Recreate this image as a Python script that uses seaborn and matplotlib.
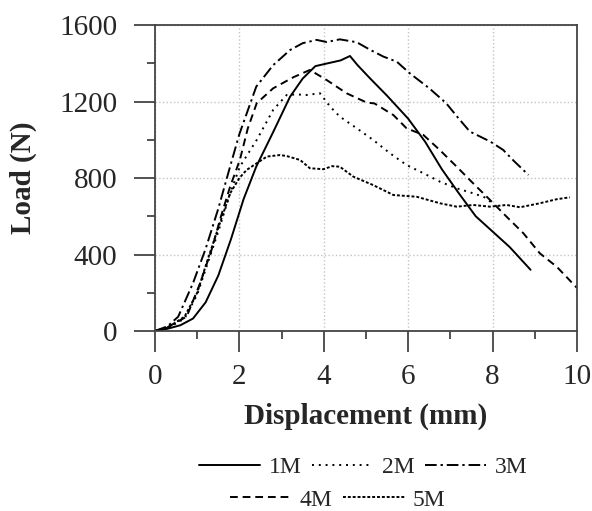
import matplotlib
matplotlib.use("Agg")
import matplotlib.pyplot as plt
import seaborn as sns
import numpy as np
from matplotlib.ticker import MultipleLocator

# data (displacement mm, load N)
x1 = [0, 0.3, 0.6, 0.9, 1.2, 1.5, 1.8, 2.1, 2.4, 2.8, 3.2, 3.5, 3.8, 4.1, 4.4, 4.62,
      4.8, 5.1, 5.5, 6.0, 6.4, 6.8, 7.2, 7.6, 8.0, 8.4, 8.9]
y1 = [0, 12, 30, 65, 150, 290, 480, 690, 860, 1040, 1225, 1320, 1385, 1400, 1415, 1438,
      1390, 1320, 1230, 1110, 990, 845, 720, 600, 520, 440, 320]

x2 = [0, 0.3, 0.7, 1.0, 1.22, 1.5, 1.78, 2.01, 2.41, 2.8, 3.12, 3.36, 3.59, 3.91, 4.15,
      4.38, 4.78, 5.17, 5.57, 5.96, 6.36, 6.75, 7.15, 7.54, 7.8, 8.05]
y2 = [0, 15, 65, 190, 336, 520, 720, 859, 999, 1156, 1234, 1237, 1234, 1243, 1173,
      1121, 1060, 999, 929, 868, 825, 781, 746, 720, 700, 660]

x3 = [0, 0.3, 0.55, 0.9, 1.2, 1.5, 1.78, 2.0, 2.4, 2.8, 3.2, 3.5, 3.83, 4.07, 4.38,
      4.78, 5.1, 5.41, 5.73, 6.04, 6.5, 6.9, 7.2, 7.46, 7.94, 8.25, 8.5, 8.85]
y3 = [0, 25, 75, 250, 430, 640, 860, 1030, 1278, 1390, 1469, 1505, 1522, 1511, 1525,
      1510, 1470, 1435, 1408, 1347, 1269, 1191, 1110, 1043, 991, 947, 890, 816]

x4 = [0, 0.3, 0.75, 1.07, 1.34, 1.55, 1.78, 2.01, 2.2, 2.41, 2.8, 3.28, 3.67, 4.07,
      4.54, 5.02, 5.2, 5.65, 5.96, 6.36, 6.75, 7.15, 7.54, 7.94, 8.33, 8.73, 9.12,
      9.52, 10.0]
y4 = [0, 20, 75, 250, 424, 590, 755, 894, 1060, 1191, 1269, 1327, 1365, 1312,
      1243, 1194, 1190, 1129, 1060, 1025, 946, 859, 772, 685, 598, 511, 406,
      336, 225]

x5 = [0, 0.3, 0.7, 1.0, 1.22, 1.5, 1.78, 2.0, 2.17, 2.41, 2.65, 2.96, 3.12, 3.44,
      3.67, 3.99, 4.2, 4.38, 4.7, 5.17, 5.65, 6.2, 6.75, 7.15, 7.54, 7.94, 8.33,
      8.65, 9.12, 9.52, 9.83]
y5 = [0, 18, 75, 200, 354, 540, 720, 800, 842, 877, 912, 920, 915, 894,
      851, 846, 862, 859, 807, 763, 711, 702, 668, 650, 659, 650, 659,
      647, 668, 689, 699]

labels = ["1M", "2M", "3M", "4M", "5M"]
styles = ["-", (0, (1, 2.5)), (0, (6, 2, 1.2, 2)), (0, (4, 2.5)), (0, (1.5, 1))]

sns.set_style("ticks")
plt.rcParams["font.family"] = ["Liberation Serif", "DejaVu Serif"]
plt.rcParams["mathtext.fontset"] = "custom"

fig = plt.figure(figsize=(5.92, 5.11), dpi=100)
ax = fig.add_axes([155 / 592, 1 - 331 / 511, 422 / 592, 306 / 511])

series = [(x1, y1), (x2, y2), (x3, y3), (x4, y4), (x5, y5)]
for (xs, ys), lab, ls in zip(series, labels, styles):
    sns.lineplot(x=xs, y=ys, ax=ax, color="black", linestyle=ls, lw=1.4,
                 label=lab, estimator=None, sort=False)
if ax.get_legend() is not None:
    ax.get_legend().remove()

ax.set_xlim(0, 10)
ax.set_ylim(0, 1600)
ax.xaxis.set_major_locator(MultipleLocator(2))
ax.xaxis.set_minor_locator(MultipleLocator(1))
ax.yaxis.set_major_locator(MultipleLocator(400))
ax.yaxis.set_minor_locator(MultipleLocator(200))

ax.grid(True, which="major", linestyle=":", color="#c4c4c4", lw=1)
for sp in ax.spines.values():
    sp.set_visible(True)
    sp.set_color("#444444")
    sp.set_linewidth(1.3)

ax.tick_params(which="major", direction="out", length=15, width=1.3,
               color="#444444", labelsize=21)
ax.tick_params(which="minor", direction="out", length=5.5, width=1.3,
               color="#444444")
ax.tick_params(axis="y", which="major", pad=12)
ax.tick_params(axis="x", which="major", pad=9)

ax.set_xlabel("Displacement (mm)", fontsize=21, fontweight="bold")
ax.set_ylabel("Load (N)", fontsize=21, fontweight="bold")
ax.xaxis.set_label_coords(0.5, -0.235)
ax.yaxis.set_label_coords(-0.28, 0.5)

handles, labs = ax.get_legend_handles_labels()
leg_kw = dict(frameon=False, fontsize=17, handlelength=2.6, handletextpad=0.35,
              columnspacing=0.45, borderpad=0, loc="center")
leg1 = fig.legend(handles[:3], labs[:3], ncol=3,
                  bbox_to_anchor=(363 / 592, 1 - 467 / 511), **leg_kw)
fig.legend(handles[3:], labs[3:], ncol=2,
           bbox_to_anchor=(338 / 592, 1 - 500 / 511), **leg_kw)

fig.savefig("out.png", dpi=100)
